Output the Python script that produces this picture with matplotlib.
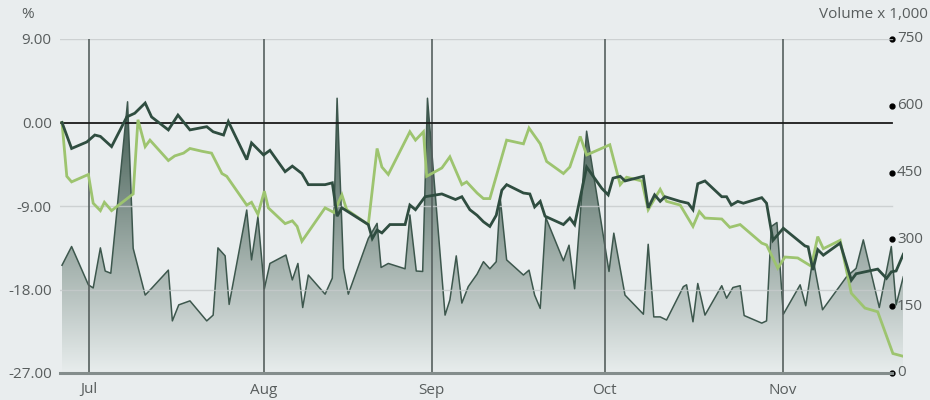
import matplotlib
matplotlib.use("Agg")
import matplotlib.pyplot as plt
import matplotlib.transforms as mtransforms
from matplotlib.colors import LinearSegmentedColormap
import numpy as np

plt.rcParams['font.family'] = ['Open Sans', 'DejaVu Sans']

# ---- data (x = trading-session index) ----
price_x = [0.0, 1.2, 3.1, 4.1, 4.8, 6.2, 8.1, 9.1, 10.4, 11.2, 13.3, 14.5, 16.0, 18.1, 18.9, 20.2, 20.8,
           23.1, 23.7, 25.2, 26.0, 27.9, 28.8, 30.0, 30.8, 32.9, 33.8, 34.4, 35.0, 38.3, 38.8, 39.4, 40.0,
           41.0, 42.9, 43.5, 44.2, 45.4, 47.5, 49.2, 50.0, 51.0, 51.9, 52.7, 53.5, 54.3, 55.0, 55.6, 57.7,
           58.5, 59.1, 59.8, 60.4, 62.7, 63.5, 64.1, 65.6, 67.5, 68.3, 68.9, 69.8, 70.4, 72.7, 73.3, 74.1,
           74.8, 75.4, 77.3, 78.3, 78.9, 79.5, 80.4, 82.5, 83.1, 83.7, 84.5, 85.2, 87.5, 88.1, 88.9, 90.2,
           92.9, 93.3, 93.9, 94.5, 95.2, 97.3, 98.7, 99.3, 102.0, 103.1, 103.7, 104.3, 105.2]
price_pct = [0.0, -2.8, -2.1, -1.35, -1.5, -2.6, 0.6, 1.0, 2.1, 0.6, -0.8, 0.8, -0.8, -0.45, -1.0, -1.35, 0.1,
             -4.0, -2.2, -3.5, -3.0, -5.3, -4.7, -5.5, -6.7, -6.7, -6.5, -10.1, -9.2, -11.0, -12.5, -11.6, -11.9,
             -11.0, -11.0, -8.9, -9.4, -8.0, -7.7, -8.3, -8.0, -9.4, -10.0, -10.7, -11.2, -10.0, -7.3, -6.7, -7.6,
             -7.7, -9.1, -8.5, -10.1, -11.0, -10.3, -11.0, -4.8, -7.1, -7.8, -6.0, -5.8, -6.3, -5.8, -9.2, -7.8,
             -8.5, -8.0, -8.5, -8.7, -9.4, -6.6, -6.3, -8.0, -8.0, -8.9, -8.5, -8.7, -8.1, -8.7, -12.7, -11.4,
             -13.3, -13.4, -15.9, -13.7, -14.3, -13.0, -17.0, -16.3, -15.8, -16.8, -16.1, -16.0, -14.2]

index_x = [0.0, 0.6, 1.2, 3.3, 3.9, 4.8, 5.3, 6.2, 8.9, 9.5, 10.4, 11.0, 13.3, 14.1, 15.2, 16.0, 17.5, 18.7,
           20.0, 20.6, 23.1, 23.7, 24.5, 25.3, 25.8, 27.9, 28.8, 29.4, 30.0, 32.9, 34.0, 35.0, 35.6, 38.3,
           39.4, 40.0, 40.8, 43.5, 44.2, 45.2, 45.6, 47.5, 48.5, 50.0, 50.6, 51.9, 52.7, 53.5, 55.6, 57.7,
           58.4, 59.8, 60.6, 62.7, 63.5, 64.8, 65.6, 68.5, 69.8, 70.6, 72.5, 73.3, 74.8, 75.6, 77.3, 78.9,
           79.7, 80.4, 82.5, 83.5, 84.8, 87.5, 88.1, 89.5, 90.4, 92.0, 93.7, 94.5, 95.2, 97.3, 98.7, 100.4,
           102.0, 103.9, 105.2]
index_pct = [0.0, -5.8, -6.4, -5.6, -8.7, -9.5, -8.6, -9.5, -7.7, 0.3, -2.6, -1.9, -4.1, -3.6, -3.3, -2.8, -3.1, -3.3,
             -5.5, -5.8, -8.9, -8.6, -9.9, -7.4, -9.2, -10.9, -10.6, -11.2, -12.8, -9.2, -9.7, -7.8, -9.4, -11.0,
             -2.8, -4.8, -5.6, -1.0, -1.9, -1.0, -5.8, -4.9, -3.7, -6.7, -6.4, -7.6, -8.2, -8.2, -1.9, -2.3,
             -0.6, -2.3, -4.2, -5.5, -4.8, -1.5, -3.5, -2.4, -6.7, -5.9, -6.3, -9.4, -7.2, -8.5, -8.9, -11.2,
             -9.6, -10.3, -10.4, -11.3, -11.0, -13.0, -13.2, -15.7, -14.5, -14.6, -15.5, -12.3, -13.6, -12.7, -18.4, -20.0,
             -20.4, -24.9, -25.2]

volume_x = [0.0, 1.2, 3.3, 3.9, 4.8, 5.4, 6.1, 8.2, 8.9, 10.4, 11.2, 13.3, 13.8, 14.6, 16.0, 18.1, 18.9, 19.5,
            20.4, 20.9, 23.1, 23.7, 24.5, 25.3, 26.0, 28.0, 28.8, 29.5, 30.1, 30.8, 32.9, 33.8, 34.4, 35.2,
            35.8, 38.3, 39.4, 39.9, 40.8, 42.9, 43.5, 44.3, 45.1, 45.7, 47.9, 48.5, 49.3, 50.0, 50.8, 51.9,
            52.7, 53.5, 54.3, 54.8, 55.6, 57.7, 58.4, 59.1, 59.8, 60.5, 62.7, 63.4, 64.1, 65.6, 68.4, 69.0,
            70.4, 72.7, 73.3, 74.0, 74.8, 75.6, 77.7, 78.1, 78.9, 79.5, 80.4, 82.5, 83.1, 83.9, 84.8, 85.3,
            87.5, 88.1, 88.7, 89.4, 90.2, 92.3, 93.0, 93.9, 95.1, 98.1, 99.3, 100.2, 102.2, 103.7, 104.3, 105.2]
volume_k = [242, 284, 198, 191, 281, 229, 224, 609, 280, 175, 190, 231, 117, 153, 162, 117, 130, 281,
            263, 154, 366, 254, 351, 189, 246, 265, 209, 246, 147, 220, 177, 213, 617, 235,
            177, 302, 336, 237, 246, 234, 355, 229, 228, 617, 130, 164, 263, 157, 194, 222,
            250, 234, 250, 392, 254, 220, 231, 175, 145, 349, 252, 287, 189, 543, 228, 314,
            175, 132, 289, 126, 126, 119, 194, 198, 115, 201, 130, 196, 168, 192, 196, 129,
            112, 117, 329, 338, 132, 198, 151, 258, 142, 216, 235, 299, 147, 284, 153, 216]

month_labels = ['Jul', 'Aug', 'Sep', 'Oct', 'Nov']
month_pos = [3.375, 25.25, 46.25, 67.875, 90.125]
pct_ticks = [9, 0, -9, -18, -27]
pct_labels = ['9.00', '0.00', '-9.00', '-18.00', '-27.00']
vol_ticks = [0, 150, 300, 450, 600, 750]
vol_labels = ['0', '150', '300', '450', '600', '750']

# ---- styling ----
BG = '#e9edee'
TXT = '#585d5d'
DARK = '#2f4d40'
GREEN = '#9dc46f'
VOL_EDGE = '#3d574d'
FS = 11

W, H = 930, 400
fig = plt.figure(figsize=(W / 100, H / 100), dpi=100, facecolor=BG)
L, R, T, B = 60, 903.3, 39, 373
axv = fig.add_axes([L / W, (H - B) / H, (R - L) / W, (B - T) / H])
axv.set_facecolor(BG)
axv.set_xlim(-0.25, 105.2)
axv.set_ylim(0, 750)
for s in axv.spines.values():
    s.set_visible(False)
axv.set_xticks([])
axv.set_yticks([])

# volume area with vertical gradient
poly = axv.fill_between(volume_x, 0, volume_k, facecolor='none', edgecolor='none')
cmap = LinearSegmentedColormap.from_list('g', ['#e8eded', '#3c574c'])
grad = np.linspace(0, 1, 256).reshape(-1, 1)
img = axv.imshow(grad, extent=[-0.25, 105.2, 0, 620], origin='lower', aspect='auto',
                 cmap=cmap, vmin=0, vmax=1, zorder=1)
img.set_clip_path(poly.get_paths()[0], transform=axv.transData)
axv.set_ylim(0, 750)
axv.plot(volume_x, volume_k, color=VOL_EDGE, lw=1.1, zorder=2)

xend = (892 - L) / (R - L)

# right axis: dots and labels
bt = mtransforms.blended_transform_factory(axv.transAxes, axv.transData)
axv.plot([xend] * len(vol_ticks), vol_ticks, 'o', color='black', ms=3.5, transform=bt,
         clip_on=False, zorder=10)
for v, lab in zip(vol_ticks, vol_labels):
    axv.text(xend + 5 / (R - L), v, lab, transform=bt, ha='left', va='center',
             fontsize=FS, color=TXT, clip_on=False)

# percent axis on top
axp = axv.twinx()
axp.set_xlim(-0.25, 105.2)
axp.set_ylim(-27, 9)
axp.patch.set_visible(False)
for s in axp.spines.values():
    s.set_visible(False)
axp.set_xticks([])
axp.yaxis.tick_left()
axp.set_yticks(pct_ticks, pct_labels)
axp.tick_params(axis='y', length=0, pad=6, labelsize=FS, labelcolor=TXT)

for v in pct_ticks[:-1]:
    if v == 0:
        continue
    axp.axhline(v, xmin=0, xmax=xend, color='#c6cbcb', lw=1.0, alpha=0.8, zorder=3)
for p in month_pos:
    axp.axvline(p, color='#56605e', lw=1.2, zorder=3)
axp.axhline(0, xmin=0, xmax=xend, color='#1a1a1a', lw=1.3, zorder=4)
axp.axhline(-27, xmin=0, xmax=xend, color='#848d8c', lw=2.2, zorder=4, clip_on=False)

axp.plot(index_x, index_pct, color=GREEN, lw=2.0, zorder=5, solid_joinstyle='miter')
axp.plot(price_x, price_pct, color=DARK, lw=2.0, zorder=6, solid_joinstyle='miter')

# month labels
bx = mtransforms.blended_transform_factory(axp.transData, fig.transFigure)
for p, lab in zip(month_pos, month_labels):
    axp.text(p, 1 - 390 / H, lab, transform=bx, ha='center', va='center', fontsize=FS, color=TXT)

fig.text(28 / W, 1 - 15 / H, '%', ha='center', va='center', fontsize=FS, color=TXT)
fig.text(928 / W, 1 - 15 / H, 'Volume x 1,000', ha='right', va='center', fontsize=FS, color=TXT)

fig.savefig('out.png', dpi=100, facecolor=BG)
